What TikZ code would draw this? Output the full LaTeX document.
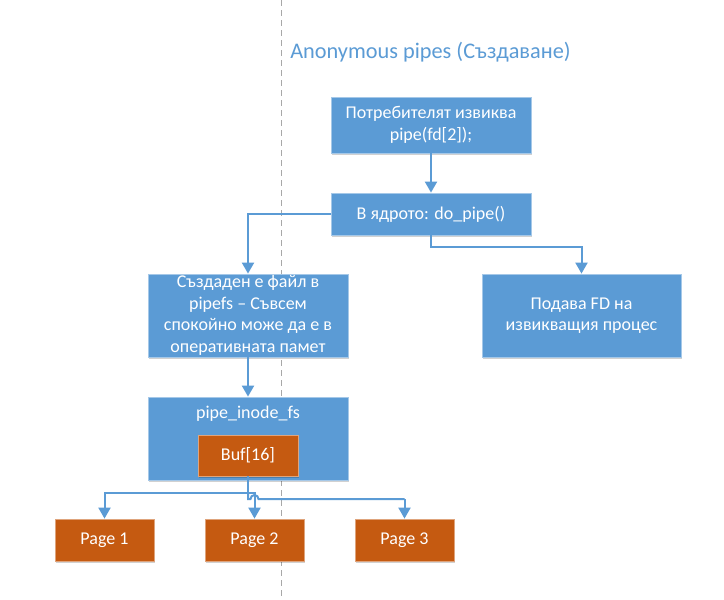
\documentclass[tikz,border=0pt]{standalone}
\usepackage{fontspec}
\setmainfont{Carlito}
\usetikzlibrary{arrows.meta,shadows}
\definecolor{bblue}{HTML}{5B9BD5}
\definecolor{borange}{HTML}{C55A11}
\definecolor{dashgray}{HTML}{A8A8A8}
\begin{document}
\begin{tikzpicture}[x=1pt,y=-1pt,
  boxbase/.style={text=white, align=center, inner sep=0pt,
    font=\fontsize{18}{21.5}\selectfont,
    drop shadow={shadow xshift=1pt, shadow yshift=-1.5pt, opacity=0.18, fill=black}},
  bluebox/.style={boxbase, fill=bblue, draw=bblue!55!white, line width=0.8pt},
  orangebox/.style={boxbase, fill=borange, draw=borange!55!white, line width=0.8pt},
  conn/.style={draw=bblue, line width=2pt, -{Triangle[width=12pt,length=11pt]}},
  plainconn/.style={draw=bblue, line width=2pt}
]
\useasboundingbox (0,0) rectangle (724,600);
\fill[white] (0,0) rectangle (724,600);
% dashed divider
\draw[dashgray, line width=0.9pt, dash pattern=on 6pt off 4pt] (281,0) -- (281,600);

% title
\node[text=bblue, font=\fontsize{22.3}{26}\selectfont, inner sep=0pt] (title) at (430.5,52) {Anonymous pipes (Създаване)};

% boxes
\node[bluebox, minimum width=200pt, minimum height=56pt] (user) at (431,125) {Потребителят извиква\\pipe(fd[2]);};
\node[bluebox, minimum width=200pt, minimum height=42pt] (kernel) at (431,214) {В ядрото: do\_pipe()};
\node[bluebox, minimum width=200pt, minimum height=83pt] (file) at (248,315.5) {Създаден е файл в\\pipefs – Съвсем\\спокойно може да е в\\оперативната памет};
\node[bluebox, minimum width=199pt, minimum height=83pt] (fd) at (581.5,315.5) {Подава FD на\\извикващия процес};
\node[bluebox, minimum width=200pt, minimum height=83pt] (inode) at (248,438.5) {};
\node[text=white, font=\fontsize{18}{21.5}\selectfont, inner sep=0pt] (inodelbl) at (248,414) {pipe\_inode\_fs};
\node[orangebox, minimum width=100pt, minimum height=41pt] (buf) at (248,455.5) {Buf[16]};
\node[orangebox, minimum width=99pt, minimum height=42pt] (p1) at (104.5,540) {Page 1};
\node[orangebox, minimum width=99pt, minimum height=42pt] (p2) at (254.5,540) {Page 2};
\node[orangebox, minimum width=99pt, minimum height=42pt] (p3) at (404.5,540) {Page 3};

% connectors
\draw[conn] (user.south) -- (kernel.north);
\draw[conn] (kernel.west) -| (file.north);
\coordinate (kdown) at (431,247);
\draw[conn] (kernel.south) -- (kdown) -| (fd.north);
\draw[conn] (file.south) -- (inode.north);

\coordinate (j1) at (248,493);
\coordinate (j2) at (248,499);
\coordinate (j1r) at (254.5,493);
\coordinate (hopa) at (250.5,499);
\coordinate (j3) at (404.5,499);
\draw[conn] (buf.south) -- (j1) -| (p1.north);
\draw[conn] (j1) -- (j1r) -- (p2.north);
\draw[plainconn] (j1) -- (j2) -- (hopa) arc[start angle=180, end angle=0, radius=4pt] -- (j3);
\draw[conn] (j3) -- (p3.north);
\end{tikzpicture}
\end{document}
